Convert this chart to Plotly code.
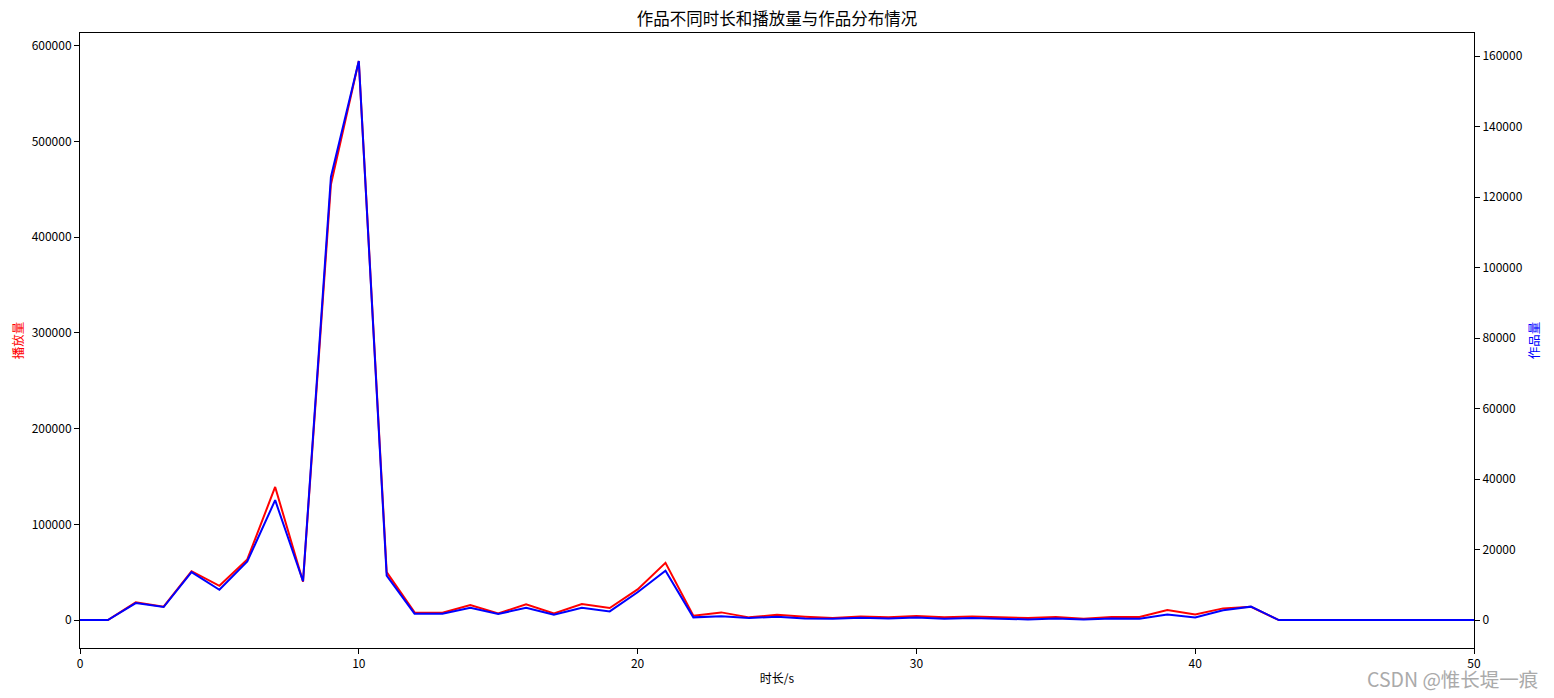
import plotly.graph_objects as go

durations = list(range(0, 51))
plays = [0, 0, 18500, 13900, 51000, 35800, 63300, 139000, 40000, 455000,
         584000, 50000, 8000, 7600, 15600, 7000, 16400, 7000, 16700, 12500,
         32000, 59800, 4500, 8000, 2800, 5500, 3500, 2100, 3800, 2800,
         4200, 2800, 3800, 2800, 2100, 3100, 1400, 3100, 3100, 10400,
         5900, 12200, 13900, 0, 0, 0, 0, 0, 0, 0, 0]
works = [0, 0, 4800, 3700, 13600, 8600, 16600, 34000, 11000, 125700,
         158600, 12600, 1800, 1800, 3500, 1700, 3500, 1500, 3500, 2450,
         7900, 14000, 760, 1050, 570, 940, 470, 380, 660, 470,
         750, 380, 570, 280, 190, 470, 190, 470, 380, 1600,
         750, 2800, 3800, 0, 0, 0, 0, 0, 0, 0, 0]

title = "作品不同时长和播放量与作品分布情况"
xlabel = "时长/s"
ylabel_left = "播放量"
ylabel_right = "作品量"
watermark = "CSDN @惟长堤一痕"

font_family = "Noto Sans CJK SC, DejaVu Sans, sans-serif"

fig = go.Figure()
fig.add_trace(go.Scatter(x=durations, y=plays, mode="lines",
                         line=dict(color="red", width=2), yaxis="y",
                         showlegend=False))
fig.add_trace(go.Scatter(x=durations, y=works, mode="lines",
                         line=dict(color="blue", width=2), yaxis="y2",
                         showlegend=False))

pmax = max(plays)
wmax = max(works)

axis_common = dict(showline=True, linecolor="black", linewidth=1,
                   ticks="outside", ticklen=5, tickcolor="black",
                   showgrid=False, zeroline=False, automargin=False,
                   tickfont=dict(family=font_family, size=12, color="black"))

# page body has an 8px margin; size the figure so it ends at the window edge
fig.update_layout(
    width=1546, height=690,
    paper_bgcolor="white", plot_bgcolor="white",
    margin=dict(l=72, r=80, t=25, b=50, autoexpand=False),
    font=dict(family=font_family, color="black"),
    title=dict(text=title, x=0.5, xref="paper", xanchor="center",
               y=1 - (19 - 8) / 690, yanchor="middle", yref="container",
               font=dict(family=font_family, size=16.5, color="black")),
    xaxis=dict(range=[0, 50], tickvals=[0, 10, 20, 30, 40, 50], mirror=True,
               title=dict(text=xlabel, standoff=4,
                          font=dict(family=font_family, size=12, color="black")),
               **axis_common),
    yaxis=dict(range=[-0.05 * pmax, 1.05 * pmax], dtick=100000,
               tickformat="d",
               title=dict(text=ylabel_left, standoff=8,
                          font=dict(family=font_family, size=12.5, color="red")),
               **axis_common),
    yaxis2=dict(range=[-0.05 * wmax, 1.05 * wmax], dtick=20000,
                tickformat="d", overlaying="y", side="right",
                title=dict(text=ylabel_right, standoff=8,
                           font=dict(family=font_family, size=12.5, color="blue")),
                **axis_common),
    annotations=[dict(text=watermark, xref="paper", yref="paper",
                      x=1.0475, y=-0.049, xanchor="right", yanchor="middle",
                      showarrow=False,
                      font=dict(family=font_family, size=19.5, color="#aaaaaa"))],
)

fig.write_html("out.html")
